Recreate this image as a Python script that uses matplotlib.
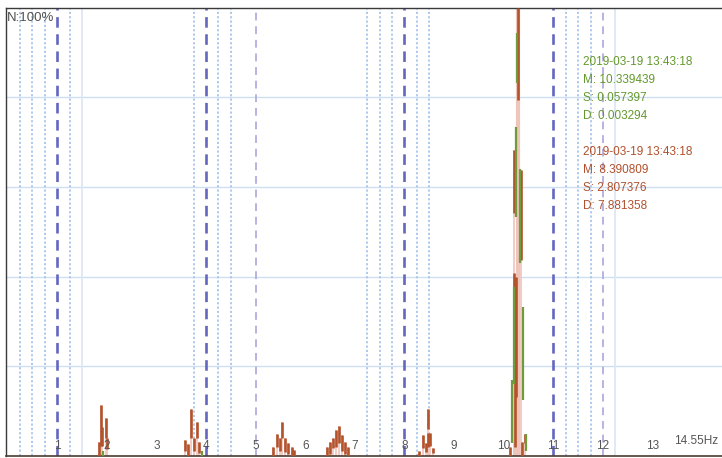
import matplotlib
matplotlib.use("Agg")
import matplotlib.pyplot as plt

# ---------------- data ----------------
# brown series (second record): frequency (Hz), segment low (%), segment high (%)
red_freq = [1.85, 1.88, 1.91, 1.98, 2.00,
            3.58, 3.64, 3.69, 3.75, 3.81, 3.86,
            5.36, 5.43, 5.49, 5.54, 5.60, 5.66, 5.73, 5.78,
            6.43, 6.49, 6.57, 6.62, 6.68, 6.75, 6.80, 6.87,
            8.30, 8.37, 8.43, 8.48, 8.48, 8.52, 8.58,
            10.13, 10.20, 10.20, 10.22, 10.25, 10.29, 10.35, 10.37, 10.42]
red_low = [0.0, 2.2, 2.2, 3.8, 1.5,
           1.1, 0.0, 4.0, 1.1, 4.0, 0.5,
           0.0, 1.8, 1.1, 3.8, 0.7, 0.4, 0.0, 0.0,
           0.0, 0.4, 1.6, 1.8, 2.9, 1.1, 0.4, 0.0,
           0.0, 1.6, 0.7, 6.0, 2.0, 2.2, 0.5,
           0.0, 54.1, 19.7, 2.0, 13.0, 79.4, 43.6, 0.0, 2.7]
red_high = [3.0, 11.2, 6.3, 8.3, 3.8,
            3.4, 2.5, 10.5, 4.0, 7.4, 3.0,
            1.9, 4.9, 4.0, 7.4, 3.8, 2.9, 1.8, 1.2,
            1.8, 3.0, 4.0, 5.6, 6.7, 4.5, 3.0, 1.8,
            1.1, 4.5, 2.9, 10.5, 5.0, 5.1, 1.7,
            2.0, 68.2, 40.7, 20.0, 39.8, 100.0, 63.8, 3.0, 4.9]

# green series (first record)
green_freq = [1.93, 3.93, 10.17, 10.20, 10.24, 10.27, 10.33, 10.39, 10.45]
green_low = [0.0, 0.0, 2.7, 16.0, 53.2, 83.2, 43.0, 12.3, 1.1]
green_high = [1.0, 1.0, 16.8, 37.6, 73.4, 94.4, 64.0, 33.1, 4.9]

# envelope (light band) of the dominant peak
peak_freq = [10.29]
peak_high = [100.0]

# x tick labels
tick_pos = [1, 2, 3, 4, 5, 6, 7, 8, 9, 10, 11, 12, 13]
tick_lab = ["1", "2", "3", "4", "5", "6", "7", "8", "9", "10", "11", "12", "13"]

# band markers
major_marks = [1, 4, 8, 11]
minor_marks = [5, 12]
dotted_marks = [0.25, 0.5, 0.75, 1.25, 3.75, 4.25, 4.5,
                7.25, 7.5, 7.75, 8.25, 8.5, 11.25, 11.5, 11.75]
faint_marks = [1.5, 12.25]

green_text = ["2019-03-19 13:43:18", "M: 10.339439", "S: 0.057397", "D: 0.003294"]
red_text = ["2019-03-19 13:43:18", "M: 8.390809", "S: 2.807376", "D: 7.881358"]

# ---------------- figure ----------------
W, H = 722, 458
fig = plt.figure(figsize=(W / 100, H / 100), dpi=100)
fig.patch.set_facecolor("white")
left_px, right_px, top_px, bot_px = 5.5, 722, 8, 455.5
ax = fig.add_axes([left_px / W, 1 - bot_px / H, (right_px - left_px) / W, (bot_px - top_px) / H])
ax.set_xlim(-0.04, 14.4)
ax.set_ylim(0, 100)

FONT = "Liberation Sans"
BROWN = "#b3532c"
GREEN = "#6e9b3c"
PINK = "#efc4bb"

# grid
for yv in [20, 40, 60, 80]:
    ax.axhline(yv, color="#cfdff2", lw=1.0, zorder=0)

for xv in dotted_marks:
    ax.axvline(xv, color="#a9c6ec", lw=1.3, ls=(0, (1.2, 1.2)), zorder=1)
for xv in faint_marks:
    ax.axvline(xv, color="#dde8f6", lw=1.3, zorder=1)
for xv in minor_marks:
    ax.axvline(xv, color="#b9b2e0", lw=1.4, ls=(0, (4, 3)), zorder=1)
for xv in major_marks:
    ax.axvline(xv, color="#6466c0", lw=1.9, ls=(0, (4, 2.5)), zorder=1)

# envelope lines
ax.vlines(red_freq, 0, red_high, color=PINK, lw=1.2, zorder=2)
ax.vlines(peak_freq, 0, peak_high, color=PINK, lw=3.0, zorder=2)

# segments
ax.vlines(red_freq, red_low, red_high, color=BROWN, lw=1.9, zorder=3)
ax.vlines(green_freq, green_low, green_high, color=GREEN, lw=1.6, zorder=4)

# spines
for s in ["top", "left"]:
    ax.spines[s].set_color("#3a3a3a")
    ax.spines[s].set_linewidth(1.0)
ax.spines["bottom"].set_color("#4a3b32")
ax.spines["bottom"].set_linewidth(1.2)
ax.spines["right"].set_visible(False)

ax.set_yticks([])
ax.set_xticks(tick_pos)
ax.set_xticklabels(tick_lab, fontfamily=FONT, fontsize=8.5, color="#555555")
ax.tick_params(axis="x", length=0, pad=-11)
ax.xaxis.set_zorder(6)

ax.text(0.995, 0.018, "14.55Hz", transform=ax.transAxes, ha="right", va="bottom",
        fontfamily=FONT, fontsize=8.5, color="#555555", zorder=6)
ax.text(0.002, 0.992, "N:100%", transform=ax.transAxes, ha="left", va="top",
        fontfamily=FONT, fontsize=9.5, color="#505050", zorder=6)

ys_g = [62, 80, 98, 116]
ys_r = [152, 170, 188, 206]
for t, y in zip(green_text, ys_g):
    fig.text(583 / W, 1 - y / H, t, ha="left", va="center", fontfamily=FONT,
             fontsize=8.5, color="#64982c")
for t, y in zip(red_text, ys_r):
    fig.text(583 / W, 1 - y / H, t, ha="left", va="center", fontfamily=FONT,
             fontsize=8.5, color="#b0502c")

fig.savefig("out.png", dpi=100, facecolor="white")
